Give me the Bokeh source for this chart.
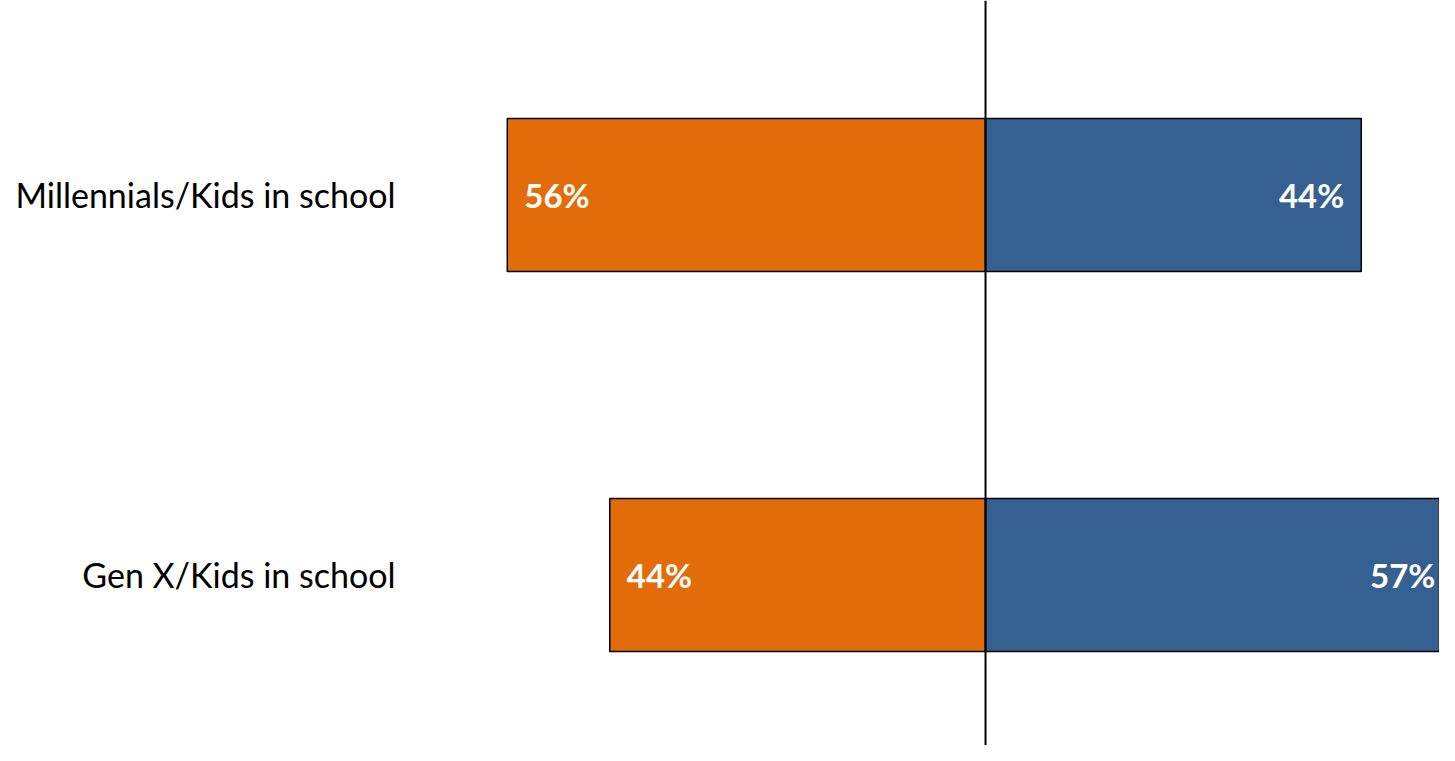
from bokeh.plotting import figure
from bokeh.models import ColumnDataSource, Range1d, FixedTicker, Span
from bokeh.core.properties import value
from bokeh.embed import file_html
from bokeh.resources import INLINE

# Data
categories = ["Gen X/Kids in school", "Millennials/Kids in school"]
orange_vals = [44, 56]
blue_vals = [57, 44]

ORANGE = "#E36C0A"
BLUE = "#366092"

X_START, X_END = -67.92, 53.16
ypos = list(range(len(categories)))

src = ColumnDataSource(dict(
    y=ypos,
    o_left=[-v for v in orange_vals],
    o_right=[0] * len(orange_vals),
    b_left=[0] * len(blue_vals),
    b_right=blue_vals,
    # keep value labels inside the visible frame when a bar runs past the edge
    b_lbl_x=[min(v, X_END + 1.5) for v in blue_vals],
    o_lbl=[f"{v}%" for v in orange_vals],
    b_lbl=[f"{v}%" for v in blue_vals],
))

W, H = 1439, 745
p = figure(width=W, height=H, output_backend="svg", toolbar_location=None,
           x_range=Range1d(X_START, X_END), y_range=Range1d(-0.4487, 1.5118),
           min_border_left=405, min_border_right=0, min_border_top=0, min_border_bottom=0)

p.hbar(y="y", left="o_left", right="o_right", height=0.4026, source=src,
       fill_color=ORANGE, line_color="black", line_width=1.5)
p.hbar(y="y", left="b_left", right="b_right", height=0.4026, source=src,
       fill_color=BLUE, line_color="black", line_width=1.5)

p.add_layout(Span(location=0, dimension="height", line_color="black", line_width=2))

p.text(x="o_left", y="y", text="o_lbl", source=src, x_offset=17,
       text_align="left", text_baseline="middle", text_color="white",
       text_font=value("Lato"), text_font_style="bold", text_font_size="33px")
p.text(x="b_lbl_x", y="y", text="b_lbl", source=src, x_offset=-17,
       text_align="right", text_baseline="middle", text_color="white",
       text_font=value("Lato"), text_font_style="bold", text_font_size="33px")

p.xaxis.visible = False
p.xgrid.visible = False
p.ygrid.visible = False
p.outline_line_color = None

ax = p.yaxis[0]
ax.ticker = FixedTicker(ticks=ypos)
ax.major_label_overrides = {i: c for i, c in zip(ypos, categories)}
ax.axis_line_color = None
ax.major_tick_line_color = None
ax.minor_tick_line_color = None
ax.major_tick_out = 0
ax.major_tick_in = 0
ax.major_label_standoff = 10
ax.major_label_text_font = "Lato"
ax.major_label_text_font_size = "34px"
ax.major_label_text_color = "black"

open("out.html", "w").write(file_html(p, INLINE))
